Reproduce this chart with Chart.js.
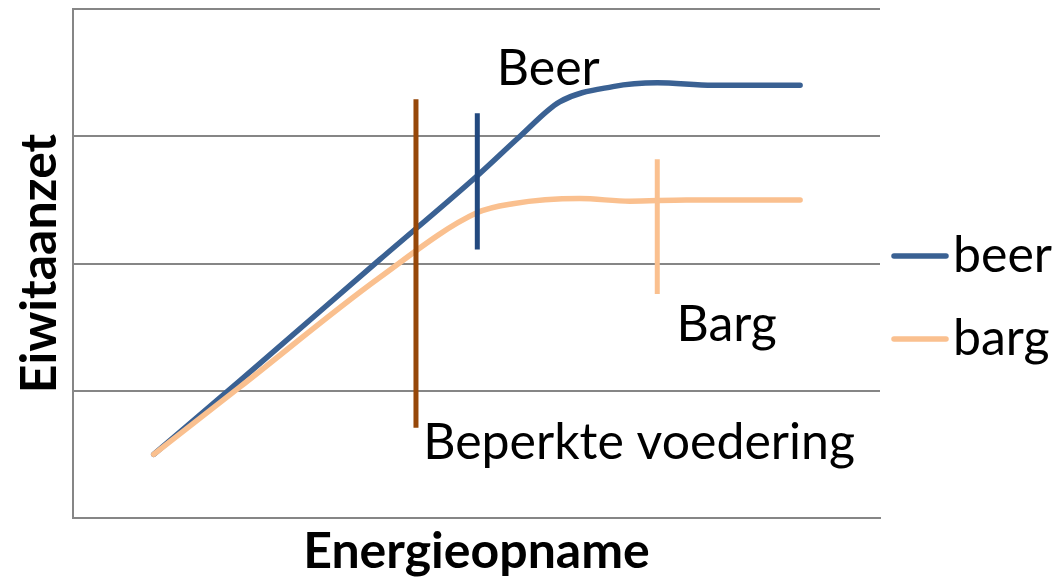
<!DOCTYPE html>
<html>
<head>
<meta charset="utf-8">
<script src="https://cdn.jsdelivr.net/npm/chart.js@4.4.1/dist/chart.umd.min.js"></script>
<style>
  html, body { margin: 0; padding: 0; background: #fff; }
  #wrap { width: 1055px; height: 582px; position: relative; }
</style>
</head>
<body>
<div id="wrap"><canvas id="c" width="1055" height="582"></canvas></div>
<script>
// Series (x: energy intake, y: protein deposition, arbitrary units)
const beerX = [1.00, 2.07, 3.80, 5.01, 5.54, 6.03, 6.69, 7.24, 7.93, 9.01];
const beerY = [0.50, 1.08, 2.03, 2.69, 3.00, 3.27, 3.39, 3.42, 3.40, 3.40];
const bargX = [1.00, 2.07, 3.80, 5.01, 5.45, 6.28, 6.90, 7.60, 9.01];
const bargY = [0.50, 1.03, 1.89, 2.40, 2.47, 2.51, 2.49, 2.50, 2.50];

// Vertical marker lines: [x, yBottom, yTop]
const markerBeperkt = [4.25, 0.71, 3.29];
const markerBeer    = [5.01, 2.11, 3.18];
const markerBarg    = [7.24, 1.76, 2.82];

const seriesNames = ['beer', 'barg'];
const annotationTexts = ['Beer', 'Barg', 'Beperkte voedering'];
const xTitle = 'Energieopname';
const yTitle = 'Eiwitaanzet';

const BLUE = '#3A6193', ORANGE = '#FAC08F', DARKBLUE = '#22497F', BROWN = '#964709';
const FONT = 'Lato, "Open Sans", sans-serif';

const toPts = (xs, ys) => xs.map((x, i) => ({x: x, y: ys[i]}));
const vLine = m => [{x: m[0], y: m[1]}, {x: m[0], y: m[2]}];

const annotationPos = [
  {x: 5.89, y: 3.53, align: 'center'},
  {x: 8.10, y: 1.52, align: 'center'},
  {x: 4.34, y: 0.59, align: 'left'}
];

const textPlugin = {
  id: 'texts',
  afterDatasetsDraw(chart) {
    const ctx = chart.ctx, xs = chart.scales.x, ys = chart.scales.y;
    ctx.save();
    ctx.fillStyle = '#000';
    ctx.font = '50px ' + FONT;
    ctx.textBaseline = 'middle';
    annotationTexts.forEach((t, i) => {
      const p = annotationPos[i];
      ctx.textAlign = p.align;
      ctx.fillText(t, xs.getPixelForValue(p.x), ys.getPixelForValue(p.y));
    });
    // legend for the two series, to the right of the plot area
    const area = chart.chartArea;
    const centerY = (area.top + area.bottom) / 2 + 34;
    const spacing = 83;
    ctx.font = '50px ' + FONT;
    ctx.textAlign = 'left';
    seriesNames.forEach((name, i) => {
      const ds = chart.data.datasets[i];
      const y = centerY + (i - 0.5) * spacing;
      const x0 = area.right + 14;
      ctx.strokeStyle = ds.borderColor;
      ctx.lineWidth = 5.5;
      ctx.lineCap = 'round';
      ctx.beginPath();
      ctx.moveTo(x0, y);
      ctx.lineTo(x0 + 52, y);
      ctx.stroke();
      ctx.fillStyle = '#000';
      ctx.fillText(name, x0 + 59, y);
    });
    ctx.restore();
  }
};

new Chart(document.getElementById('c'), {
  type: 'line',
  data: {
    datasets: [
      {label: seriesNames[0], data: toPts(beerX, beerY), borderColor: BLUE, backgroundColor: BLUE,
       borderWidth: 5.5, pointRadius: 0, cubicInterpolationMode: 'monotone', borderCapStyle: 'round', order: 2},
      {label: seriesNames[1], data: toPts(bargX, bargY), borderColor: ORANGE, backgroundColor: ORANGE,
       borderWidth: 5.5, pointRadius: 0, cubicInterpolationMode: 'monotone', borderCapStyle: 'round', order: 1},
      {label: '_m1', data: vLine(markerBeperkt), borderColor: BROWN, borderWidth: 5, pointRadius: 0, order: 0},
      {label: '_m2', data: vLine(markerBeer), borderColor: DARKBLUE, borderWidth: 5, pointRadius: 0, order: 0},
      {label: '_m3', data: vLine(markerBarg), borderColor: ORANGE, borderWidth: 5, pointRadius: 0, order: 0}
    ]
  },
  options: {
    responsive: false,
    animation: false,
    layout: {padding: {top: 9, right: 175, left: 0, bottom: 0}},
    plugins: {
      tooltip: {enabled: false},
      legend: {display: false}
    },
    scales: {
      x: {
        type: 'linear', min: 0, max: 10,
        grid: {display: false, drawTicks: false},
        border: {display: true, color: '#868686', width: 2},
        ticks: {display: false},
        title: {display: true, text: xTitle, color: '#000', font: {family: FONT, size: 50, weight: 'bold'}, padding: {top: 2, bottom: 0}},
        afterFit: s => { s.height = 64; }
      },
      y: {
        type: 'linear', min: 0, max: 4,
        grid: {display: true, color: '#868686', lineWidth: 2, drawTicks: false},
        border: {display: true, color: '#868686', width: 2},
        ticks: {display: false, stepSize: 1},
        title: {display: true, text: yTitle, color: '#000', font: {family: FONT, size: 50, weight: 'bold'}, padding: {top: 10, bottom: 0}},
        afterFit: s => { s.width = 73; }
      }
    }
  },
  plugins: [textPlugin]
});
</script>
</body>
</html>
